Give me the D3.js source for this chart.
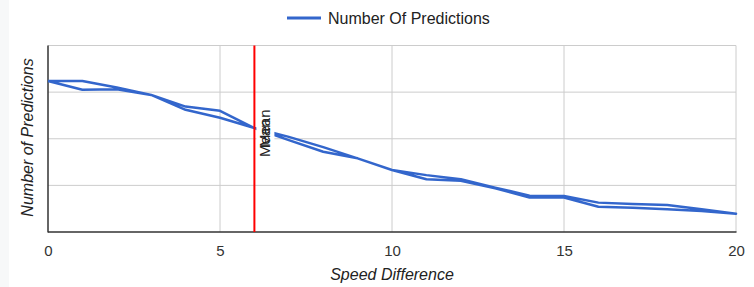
<!DOCTYPE html>
<html>
<head>
<meta charset="utf-8">
<script src="https://cdn.jsdelivr.net/npm/d3@7"></script>
<style>
  body { margin: 0; background: #fff; }
  text { font-family: Arial, "Liberation Sans", sans-serif; }
</style>
</head>
<body>
<div id="chart"></div>
<script>
// data
var speedDiff = [0, 1, 2, 3, 4, 5, 6, 7, 8, 9, 10, 11, 12, 13, 14, 15, 16, 17, 18, 19, 20];
var predictionsA = [324, 324, 310, 294, 269, 260, 223, 204, 182, 158, 133, 122, 113, 95, 78, 77, 63, 60, 58, 49, 39];
var predictionsB = [324, 305, 306, 294, 262, 245, 223, 197, 172, 158, 133, 113, 110, 94, 74, 74, 54, 52, 49, 45, 39];
var xTicks = [0, 5, 10, 15, 20];
var yTicks = [0, 100, 200, 300, 400];
var meanValue = 6;
var seriesName = "Number Of Predictions";

var svgWidth = 754;
var svgHeight = 287;

var svg = d3.select("#chart")
  .append("svg")
  .attr("width", svgWidth)
  .attr("height", svgHeight);

svg.append("rect")
  .attr("width", 9).attr("height", svgHeight)
  .attr("fill", "#f7f8f9");

var xScale = d3.scaleLinear().domain([0, 20]).range([48, 736]);
var yScale = d3.scaleLinear().domain([0, 400]).range([232, 45.5]);

// gridlines
svg.append("g")
  .selectAll("line.vgrid")
  .data(xTicks.slice(1))
  .enter().append("line")
  .attr("x1", d => xScale(d)).attr("x2", d => xScale(d))
  .attr("y1", yScale(400)).attr("y2", yScale(0))
  .attr("stroke", "#cccccc").attr("stroke-width", 1);

svg.append("g")
  .selectAll("line.hgrid")
  .data(yTicks.slice(1))
  .enter().append("line")
  .attr("x1", xScale(0)).attr("x2", xScale(20))
  .attr("y1", d => yScale(d)).attr("y2", d => yScale(d))
  .attr("stroke", "#cccccc").attr("stroke-width", 1);

// bottom axis labels
var bottomAxis = d3.axisBottom(xScale).tickValues(xTicks).tickSize(0).tickPadding(13);
var xAxisG = svg.append("g")
  .attr("transform", `translate(0, ${yScale(0)})`)
  .call(bottomAxis);
xAxisG.select(".domain").remove();
xAxisG.selectAll("text")
  .attr("font-size", 15)
  .attr("font-family", "Arial, 'Liberation Sans', sans-serif")
  .attr("fill", "#333");

// axis lines
svg.append("line")
  .attr("x1", xScale(0)).attr("x2", xScale(0))
  .attr("y1", yScale(400)).attr("y2", yScale(0) + 0.5)
  .attr("stroke", "#333").attr("stroke-width", 1.5);
svg.append("line")
  .attr("x1", xScale(0)).attr("x2", xScale(20) + 0.5)
  .attr("y1", yScale(0)).attr("y2", yScale(0))
  .attr("stroke", "#333").attr("stroke-width", 1.5);

// series line (goes out on A and back on B)
var pts = speedDiff.map((d, i) => [d, predictionsA[i]]);
var back = speedDiff.map((d, i) => [d, predictionsB[i]]).reverse();
var line = d3.line()
  .x(d => xScale(d[0]))
  .y(d => yScale(d[1]));

svg.append("path")
  .datum(pts.concat(back))
  .attr("d", line)
  .attr("fill", "none")
  .attr("stroke", "#3366cc")
  .attr("stroke-width", 2.5)
  .attr("stroke-linejoin", "round");

// mean annotation
svg.append("rect")
  .attr("x", xScale(meanValue) + 2).attr("y", 107)
  .attr("width", 18).attr("height", 53)
  .attr("fill", "#fff");

svg.append("line")
  .attr("x1", xScale(meanValue)).attr("x2", xScale(meanValue))
  .attr("y1", yScale(400)).attr("y2", yScale(0))
  .attr("stroke", "#ff0000").attr("stroke-width", 2);

[157, 147].forEach(function(y0) {
  svg.append("text")
    .attr("transform", `translate(${xScale(meanValue) + 16}, ${y0}) rotate(-90)`)
    .attr("font-size", 15)
    .attr("fill", "#222")
    .text("Mean");
});

// legend
svg.append("line")
  .attr("x1", 287).attr("x2", 321)
  .attr("y1", 18).attr("y2", 18)
  .attr("stroke", "#3366cc").attr("stroke-width", 3);
svg.append("text")
  .attr("x", 328).attr("y", 24)
  .attr("font-size", 16)
  .attr("fill", "#222")
  .text(seriesName);

// axis titles
svg.append("text")
  .attr("x", xScale(10)).attr("y", 280)
  .attr("text-anchor", "middle")
  .attr("font-size", 16)
  .attr("font-style", "italic")
  .attr("fill", "#222")
  .text("Speed Difference");

svg.append("text")
  .attr("transform", "translate(33, 137.5) rotate(-90)")
  .attr("text-anchor", "middle")
  .attr("font-size", 16)
  .attr("font-style", "italic")
  .attr("fill", "#222")
  .text("Number of Predictions");
</script>
</body>
</html>
